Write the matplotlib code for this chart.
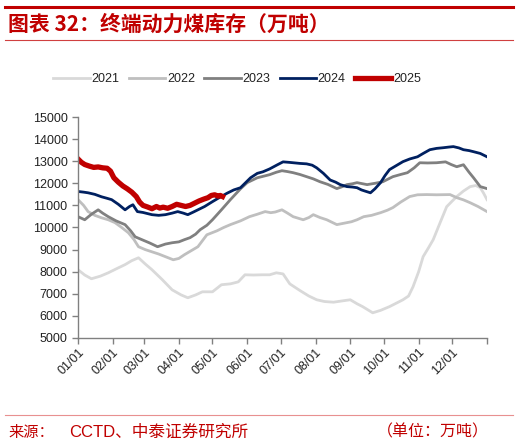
import numpy as np
import matplotlib
matplotlib.use("Agg")
import matplotlib.pyplot as plt
from matplotlib.lines import Line2D

plt.rcParams['font.family'] = ['Liberation Sans', 'Noto Sans CJK SC', 'DejaVu Sans']

# day of year -> inventory (10k tonnes)
d21 = [0, 6, 12, 20, 27, 35, 42, 48, 54, 60, 66, 75, 84, 92, 98, 105, 111, 120, 128, 136,
       143, 149, 157, 164, 171, 177, 183, 189, 198, 206, 213, 220, 228, 236, 243, 249, 254, 263, 270, 278,
       285, 290, 295, 299, 304, 308, 313, 317, 323, 329, 334, 338, 344, 350, 355, 359, 362, 365]
v21 = [8090, 7850, 7680, 7800, 7950, 8150, 8320, 8500, 8630, 8350, 8090, 7650, 7180, 6950, 6820, 6950, 7090, 7090, 7410, 7450,
       7540, 7860, 7850, 7860, 7860, 7950, 7900, 7450, 7150, 6900, 6730, 6650, 6620, 6680, 6730, 6550, 6420, 6140, 6250, 6420,
       6600, 6730, 6900, 7320, 8000, 8680, 9100, 9450, 10200, 10940, 11200, 11400, 11650, 11850, 11900, 11800, 11550, 11260]

d22 = [0, 5, 9, 15, 21, 27, 33, 39, 45, 50, 54, 60, 66, 72, 78, 85, 90, 95, 101, 107,
       111, 115, 124, 130, 136, 145, 153, 160, 167, 172, 176, 182, 187, 192, 201, 206, 210, 216, 222, 231,
       238, 244, 249, 255, 262, 270, 276, 281, 288, 296, 303, 311, 320, 332, 338, 344, 350, 357, 365]
v22 = [11260, 11000, 10720, 10550, 10440, 10350, 10220, 10000, 9760, 9450, 9130, 9000, 8900, 8800, 8680, 8540, 8600, 8770, 8950, 9130,
       9400, 9670, 9850, 10000, 10130, 10300, 10490, 10600, 10720, 10670, 10700, 10800, 10650, 10490, 10350, 10450, 10580, 10450, 10350, 10130,
       10200, 10260, 10350, 10490, 10550, 10670, 10780, 10900, 11150, 11400, 11480, 11490, 11480, 11490, 11350, 11250, 11120, 10950, 10720]

d23 = [0, 6, 12, 18, 22, 27, 34, 42, 47, 51, 57, 64, 71, 78, 84, 90, 95, 100, 105, 109,
       115, 120, 128, 136, 145, 151, 160, 171, 177, 182, 187, 192, 198, 204, 210, 216, 223, 231, 236, 240,
       245, 249, 254, 258, 265, 272, 281, 288, 294, 300, 305, 312, 320, 328, 333, 338, 344, 349, 353, 359, 365]
v23 = [10490, 10350, 10600, 10800, 10650, 10490, 10300, 10130, 9850, 9580, 9450, 9300, 9130, 9250, 9310, 9350, 9450, 9540, 9700, 9900,
       10100, 10350, 10800, 11260, 11750, 12030, 12250, 12390, 12500, 12570, 12530, 12480, 12400, 12300, 12200, 12070, 11950, 11760, 11850, 11940,
       11980, 12030, 11980, 11940, 12000, 12070, 12300, 12400, 12480, 12700, 12930, 12920, 12930, 12970, 12850, 12750, 12840, 12500, 12250, 11850, 11760]

d24 = [0, 5, 9, 15, 21, 26, 30, 36, 42, 46, 49, 53, 58, 66, 72, 78, 84, 89, 94, 98,
       103, 107, 113, 120, 126, 133, 139, 145, 150, 154, 160, 165, 171, 178, 183, 188, 192, 198, 204, 209,
       213, 219, 225, 230, 234, 240, 245, 249, 253, 256, 261, 265, 270, 274, 278, 284, 290, 296, 303, 308,
       314, 320, 326, 331, 335, 340, 344, 349, 353, 359, 365]
v24 = [11630, 11600, 11570, 11500, 11390, 11320, 11260, 11050, 10800, 10950, 11030, 10720, 10680, 10580, 10550, 10580, 10650, 10720, 10650, 10580,
       10700, 10800, 10950, 11170, 11350, 11550, 11700, 11800, 12050, 12250, 12450, 12520, 12650, 12840, 12970, 12950, 12930, 12900, 12880, 12820,
       12700, 12450, 12150, 12050, 11940, 11850, 11830, 11800, 11700, 11650, 11570, 11750, 12030, 12350, 12620, 12800, 12980, 13100, 13200, 13350,
       13520, 13580, 13610, 13640, 13660, 13600, 13520, 13480, 13430, 13350, 13200]

d25 = [0, 3, 6, 10, 14, 18, 22, 26, 29, 32, 36, 40, 44, 48, 52, 55, 58, 62, 66, 70,
       73, 76, 80, 84, 88, 92, 96, 100, 104, 108, 112, 116, 119, 122, 125, 127, 129]
v25 = [13100, 12950, 12850, 12780, 12720, 12740, 12700, 12680, 12550, 12250, 12050, 11880, 11750, 11600, 11400, 11150, 11000, 10930, 10850, 10950,
       10880, 10920, 10870, 10950, 11050, 11000, 10950, 11000, 11100, 11200, 11280, 11350, 11450, 11480, 11420, 11450, 11400]

years = ['2021', '2022', '2023', '2024', '2025']
colors = ['#d9d9d9', '#bfbfbf', '#808080', '#002060', '#c00000']
widths = [2.0, 2.0, 2.0, 2.0, 3.8]

month_days = [0, 31, 59, 90, 120, 151, 181, 212, 243, 273, 304, 334]
month_labels = ['01/01', '02/01', '03/01', '04/01', '05/01', '06/01',
                '07/01', '08/01', '09/01', '10/01', '11/01', '12/01']

fig = plt.figure(figsize=(5.18, 4.45), dpi=100)
ax = fig.add_axes([78 / 518, 1 - 338 / 445, 409 / 518, 221 / 445])

series = [(d21, v21), (d22, v22), (d23, v23), (d24, v24), (d25, v25)]
for (d, v), c, w, yr in zip(series, colors, widths, years):
    ax.plot(d, v, color=c, lw=w, label=yr, solid_joinstyle='round')

ax.set_xlim(0, 365)
ax.set_ylim(5000, 15000)
ax.set_yticks(np.arange(5000, 15001, 1000))
ax.set_xticks(month_days + [365])
ax.set_xticklabels(month_labels + [''], rotation=45, ha='right', rotation_mode='anchor')
for s in ['top', 'right']:
    ax.spines[s].set_visible(False)
for s in ['left', 'bottom']:
    ax.spines[s].set_color('#808080')
    ax.spines[s].set_linewidth(1.0)
ax.tick_params(axis='both', colors='#808080', labelcolor='#222222', labelsize=9, length=4, width=1)
ax.tick_params(axis='x', pad=2)

handles = [Line2D([], [], color=c, lw=w) for c, w in zip(colors, widths)]
fig.legend(handles, years, loc='center', bbox_to_anchor=(0.458, 1 - 79 / 445), ncol=5,
           frameon=False, fontsize=9, handlelength=2.9, handletextpad=0.15, columnspacing=0.75,
           labelcolor='#222222')

# header and footer decoration
fig.add_artist(Line2D([5 / 518, 513 / 518], [1 - 6.5 / 445] * 2, color='#c00000', lw=2.2))
fig.add_artist(Line2D([5 / 518, 513 / 518], [1 - 40 / 445] * 2, color='#d04040', lw=0.8))
fig.add_artist(Line2D([5 / 518, 513 / 518], [1 - 415 / 445] * 2, color='#e89090', lw=0.8))

fig.text(8 / 518, 1 - 24 / 445, '图表 32：终端动力煤库存（万吨）', color='#c00000', fontsize=15,
         fontweight='bold', va='center', ha='left', family=['Noto Sans CJK SC', 'DejaVu Sans'])
fig.text(8 / 518, 1 - 432 / 445, '来源：', color='#c00000', fontsize=11, va='center', ha='left',
         family=['Noto Sans CJK SC', 'DejaVu Sans'])
fig.text(69 / 518, 1 - 432 / 445, 'CCTD、中泰证券研究所', color='#c00000', fontsize=12, va='center', ha='left',
         family=['Liberation Sans', 'Noto Sans CJK SC'])
fig.text(489 / 518, 1 - 432 / 445, '（单位：万吨）', color='#c00000', fontsize=11.5, va='center', ha='right',
         family=['Noto Sans CJK SC', 'DejaVu Sans'])

fig.savefig('out.png', dpi=100)
